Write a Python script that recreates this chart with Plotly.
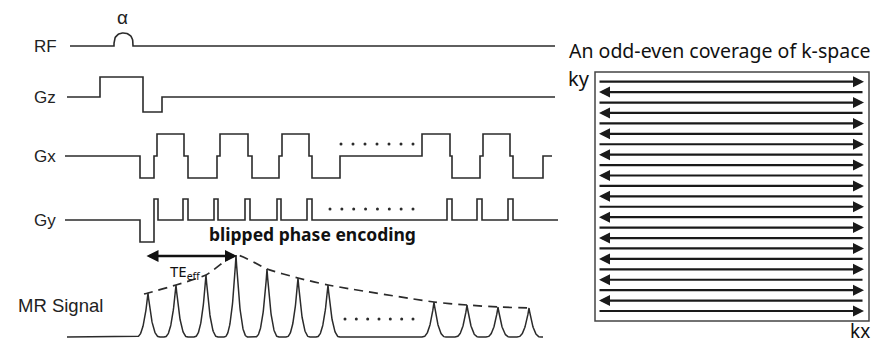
import numpy as np
import plotly.graph_objects as go

# ---------------- data (times in diagram units, amplitudes relative to baseline) -------------
channels = ["RF", "Gz", "Gx", "Gy", "MR Signal"]

# Gz lobes: (start, end, amplitude)
gz_lobes = [(100, 143, 20), (143, 162, -15)]
# Gx readout lobes
gx_lobes = [(140, 154, -22), (157, 184, 22), (188, 217, -22), (220, 248, 22),
            (252, 279, -22), (282, 309, 22), (312, 340, -22), (422, 450, 22),
            (452, 480, -22), (483, 510, 22), (513, 543, -22)]
# Gy prephaser + blips
gy_lobes = [(140, 154, -22), (154, 158, 21), (183, 188, 21), (214, 218, 21),
            (245, 250, 21), (277, 281, 21), (307, 312, 21), (447, 452, 21),
            (477, 482, 21), (508, 513, 21)]
# RF pulse: (start, end, height)
rf_pulse = (114, 133, 13)
# Echo peak times and heights
echo_t = [148, 176, 206, 236, 267, 298, 328, 434, 467, 498, 529]
echo_h = [44, 52, 62, 82, 68, 59, 52, 35, 32, 30, 29]
te_eff = (145, 237)

# k-space trajectory: 23 lines, alternating direction
ky_dir = ["R", "L", "R", "L", "R", "L", "R", "L", "R", "L", "R", "L",
          "R", "L", "R", "L", "R", "L", "R", "L", "R", "L", "R"]

# ---------------- layout helpers --------------------------------------------------------------
base = {"RF": 46, "Gz": 97, "Gx": 156, "Gy": 220, "MR Signal": 337}
line_span = {"RF": (70, 555), "Gz": (67, 555), "Gx": (65, 552), "Gy": (65, 558),
             "MR Signal": (67, 543)}
INK = "#2b2b2b"

fig = go.Figure()

def step_wave(name, lobes):
    y0 = base[name]
    x0, x1 = line_span[name]
    xs, ys = [x0], [y0]
    for s, e, a in lobes:
        xs += [s, s, e, e]
        ys += [y0, y0 - a, y0 - a, y0]
    xs.append(x1)
    ys.append(y0)
    fig.add_trace(go.Scatter(x=xs, y=ys, mode="lines",
                             line=dict(color=INK, width=1.6), hoverinfo="skip"))

# RF
s, e, h = rf_pulse
th = np.linspace(np.pi, 0, 40)
cx, rx = (s + e) / 2, (e - s) / 2
rf_x = [line_span["RF"][0]] + list(cx + rx * np.cos(th)) + [line_span["RF"][1]]
rf_y = [base["RF"]] + list(base["RF"] - h * np.sin(th) ** 0.6) + [base["RF"]]
fig.add_trace(go.Scatter(x=rf_x, y=rf_y, mode="lines",
                         line=dict(color=INK, width=1.6), hoverinfo="skip"))

step_wave("Gz", gz_lobes)
step_wave("Gx", gx_lobes)
step_wave("Gy", gy_lobes)

# MR signal echoes
yb = base["MR Signal"]
W = 12.0
mx, my = [line_span["MR Signal"][0]], [yb]
for t, h in zip(echo_t, echo_h):
    tt = np.linspace(-W, W, 81)
    mx += list(t + tt)
    my += list(yb - h * (1 - np.abs(tt) / W) ** 2.6)
mx.append(line_span["MR Signal"][1])
my.append(yb)
fig.add_trace(go.Scatter(x=mx, y=my, mode="lines",
                         line=dict(color=INK, width=1.5), hoverinfo="skip"))
# envelope
fig.add_trace(go.Scatter(x=[echo_t[0] - 4] + echo_t + [echo_t[-1] + 4],
                         y=[yb - echo_h[0] + 1] + [yb - h for h in echo_h] + [yb - echo_h[-1]],
                         mode="lines", line=dict(color=INK, width=1.7, dash="9px,6px",
                                                 shape="spline", smoothing=0.6),
                         hoverinfo="skip"))

# dots
def dots(x0, x1, n, y):
    fig.add_trace(go.Scatter(x=list(np.linspace(x0, x1, n)), y=[y] * n, mode="markers",
                             marker=dict(color=INK, size=3), hoverinfo="skip"))
dots(341, 413, 7, 144)
dots(330, 413, 8, 209)
dots(345, 413, 7, 319)

# labels
lab_font = dict(family="Liberation Sans, Arial", size=17, color="#222")
for name, x in [("RF", 59), ("Gz", 58), ("Gx", 58), ("Gy", 58)]:
    fig.add_annotation(x=x, y=base[name], text=name, showarrow=False, xanchor="right",
                       yanchor="middle", font=lab_font)
fig.add_annotation(x=105, y=305, text="MR Signal", showarrow=False, xanchor="right",
                   yanchor="middle", font=dict(family="Liberation Sans, Arial", size=18.5,
                                               color="#222"))
fig.add_annotation(x=122, y=17, text="α", showarrow=False,
                   font=dict(family="Liberation Sans, Arial", size=19, color="#222"))

fig.add_annotation(x=312, y=234, text="<b>blipped phase encoding</b>", showarrow=False,
                   font=dict(family="Noto Sans", size=17.5, color="#111"))

# TE_eff arrow
fig.add_annotation(x=te_eff[1], y=256, ax=te_eff[0], ay=256, xref="x", yref="y",
                   axref="x", ayref="y", showarrow=True, arrowhead=2, arrowside="end+start",
                   arrowsize=1, arrowwidth=2.4, arrowcolor="#111", text="")
fig.add_annotation(x=168, y=272, text="TE<sub>eff</sub>", showarrow=False, xanchor="left",
                   font=dict(family="Noto Sans", size=15, color="#111"))

# k-space
bx0, bx1, by0, by1 = 595, 869, 72, 321
fig.add_shape(type="rect", x0=bx0, x1=bx1, y0=by0, y1=by1, xref="x", yref="y",
              line=dict(color="#444", width=1.5))
n = len(ky_dir)
ys = np.linspace(81.7, 311, n)
for d, y in zip(ky_dir, ys):
    if d == "R":
        xa, xh = 598, 864
    else:
        xa, xh = 864, 599
    fig.add_annotation(x=xh, y=y, ax=xa, ay=y, xref="x", yref="y", axref="x", ayref="y",
                       showarrow=True, arrowhead=2, arrowsize=1, arrowwidth=2.2,
                       arrowcolor="#1a1a1a", text="")

fig.add_annotation(x=567, y=50, text="An odd-even coverage of k-space", showarrow=False,
                   xanchor="left", font=dict(family="Noto Sans", size=19.5, color="#111"))
fig.add_annotation(x=579, y=78, text="ky", showarrow=False,
                   font=dict(family="Noto Sans", size=20, color="#111"))
fig.add_annotation(x=860, y=331, text="kx", showarrow=False,
                   font=dict(family="Noto Sans", size=19, color="#111"))

# page body has an 8px margin: shrink figure and offset ranges so data units equal window pixels
fig.update_layout(width=882, height=335, margin=dict(l=0, r=0, t=0, b=0),
                  paper_bgcolor="white", plot_bgcolor="white", showlegend=False)
fig.update_xaxes(range=[8, 890], visible=False, fixedrange=True)
fig.update_yaxes(range=[343, 8], visible=False, fixedrange=True)
fig.write_html("out.html")
